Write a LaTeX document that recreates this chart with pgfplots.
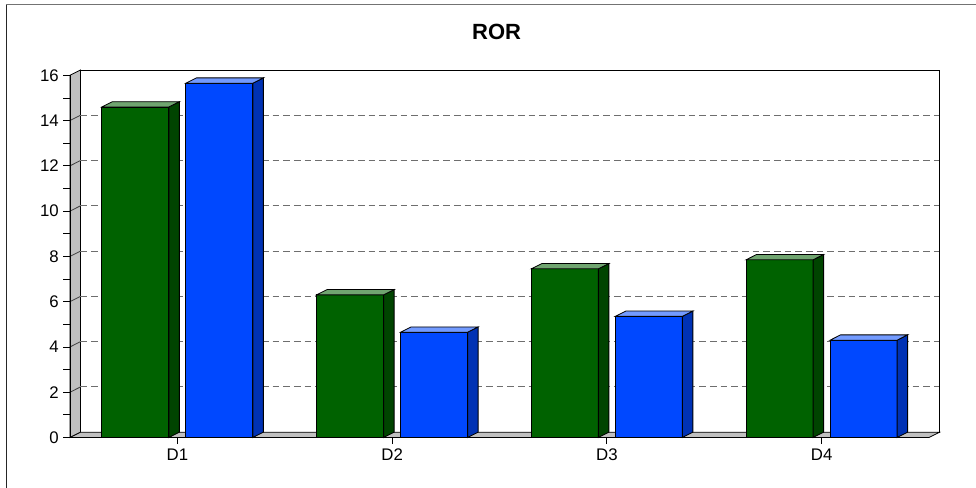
\documentclass[border=0pt]{standalone}
\usepackage{fontspec}
\setmainfont{Liberation Sans}
\usepackage{pgfplots}
\usepackage{pgfplotstable}
\pgfplotsset{compat=1.18}

\definecolor{gfront}{RGB}{0,98,0}
\definecolor{gside}{RGB}{0,68,0}
\definecolor{gtop}{RGB}{112,165,112}
\definecolor{bfront}{RGB}{0,72,255}
\definecolor{bside}{RGB}{0,50,180}
\definecolor{btop}{RGB}{115,155,255}
\definecolor{wallgray}{RGB}{192,192,192}
\definecolor{gridgray}{RGB}{110,110,110}

\pgfplotstableread{
x v
0 14.6
1 6.3
2 7.45
3 7.85
}\greendata
\pgfplotstableread{
x v
0 15.65
1 4.65
2 5.35
3 4.3
}\bluedata

% side and top faces of a 3D bar, drawn at the top-centre of the front face
\newcommand\barfaces[2]{%
  \pgfmathsetmacro\hh{\ry*16.98}%
  \pgfsetlinewidth{0.6pt}%
  \pgfsetstrokecolor{black}%
  \pgfsetfillcolor{#1}%
  \pgfpathmoveto{\pgfqpoint{25.125pt}{0pt}}%
  \pgfpathlineto{\pgfqpoint{33pt}{3.975pt}}%
  \pgfpathlineto{\pgfpoint{33pt}{3.975pt-\hh pt}}%
  \pgfpathlineto{\pgfpoint{25.125pt}{-\hh pt}}%
  \pgfpathclose
  \pgfusepath{fill,stroke}%
  \pgfsetfillcolor{#2}%
  \pgfpathmoveto{\pgfqpoint{-25.125pt}{0pt}}%
  \pgfpathlineto{\pgfqpoint{25.125pt}{0pt}}%
  \pgfpathlineto{\pgfqpoint{33pt}{3.975pt}}%
  \pgfpathlineto{\pgfqpoint{-17.25pt}{3.975pt}}%
  \pgfpathclose
  \pgfusepath{fill,stroke}%
}
\pgfdeclareplotmark{gbar3d}{\barfaces{gside}{gtop}}
\pgfdeclareplotmark{bbar3d}{\barfaces{bside}{btop}}

\begin{document}
\begin{tikzpicture}[x=1pt,y=1pt]
\begin{axis}[
  set layers,
  at={(0,0)}, anchor=south west,
  xmin=-0.5, xmax=3.5, ymin=0, ymax=16,
  x=161.06pt, y=16.98pt,
  axis x line*=bottom, axis y line*=left,
  axis line style={black, line width=0.6pt, -},
  xtick={0,1,2,3}, xticklabels={D1,D2,D3,D4},
  ytick={0,2,...,16},
  minor y tick num=1,
  extra y ticks={2,4,...,14}, extra y tick labels={},
  extra y tick style={grid=major, major tick length=0pt},
  major grid style={gridgray, dash pattern=on 5pt off 3pt, line width=0.7pt, xshift=7.875pt, yshift=3.975pt},
  tick align=outside, major tick length=4.9pt, minor tick length=4.9pt,
  tick style={black, line width=0.6pt},
  ticklabel style={font=\fontsize{12.6}{14}\selectfont},
  /pgf/number format/assume math mode=true,
  clip=false,
  title=ROR,
  every axis title/.style={at={(axis description cs:0.4967,1.1196)}, anchor=center, font=\bfseries\fontsize{16.5}{18}\selectfont},
]
\begin{pgfonlayer}{axis background}
  \filldraw[fill=white, draw=black, line width=0.6pt]
    ([shift={(7.875pt,3.975pt)}]axis cs:-0.5,0) rectangle ([shift={(7.875pt,3.975pt)}]axis cs:3.5,16);
  \filldraw[fill=wallgray, draw=black, line width=0.6pt]
    (axis cs:-0.5,0) -- (axis cs:-0.5,16) -- ([shift={(7.875pt,3.975pt)}]axis cs:-0.5,16)
    -- ([shift={(7.875pt,3.975pt)}]axis cs:-0.5,0) -- cycle;
  \filldraw[fill=wallgray, draw=black, line width=0.6pt]
    (axis cs:-0.5,0) -- (axis cs:3.5,0) -- ([shift={(7.875pt,3.975pt)}]axis cs:3.5,0)
    -- ([shift={(7.875pt,3.975pt)}]axis cs:-0.5,0) -- cycle;
  \pgfplotsinvokeforeach{2,4,...,14}{
    \draw[black!75, line width=0.6pt] (axis cs:-0.5,#1) -- ([shift={(7.875pt,3.975pt)}]axis cs:-0.5,#1);
  }
\end{pgfonlayer}

\addplot[ybar, bar width=50.25pt, bar shift=-31.5pt, fill=gfront, draw=black, line width=0.6pt]
  table[x=x, y=v]{\greendata};
\addplot[scatter, only marks, mark=gbar3d, visualization depends on={\thisrow{v} \as \ry}]
  table[x expr=\thisrow{x}-0.19558, y=v]{\greendata};
\addplot[ybar, bar width=50.25pt, bar shift=31.5pt, fill=bfront, draw=black, line width=0.6pt]
  table[x=x, y=v]{\bluedata};
\addplot[scatter, only marks, mark=bbar3d, visualization depends on={\thisrow{v} \as \ry}]
  table[x expr=\thisrow{x}+0.19558, y=v]{\bluedata};
\end{axis}
\draw[black!85, line width=1pt] (-47.6,-40) -- (-47.6,324.9);
\draw[black!55, line width=1pt] (-48.1,324.9) -- (685,324.9);
\pgfresetboundingbox
\path[use as bounding box] (-52.5,-37.125) rectangle (679.5,328.125);
\end{tikzpicture}
\end{document}
